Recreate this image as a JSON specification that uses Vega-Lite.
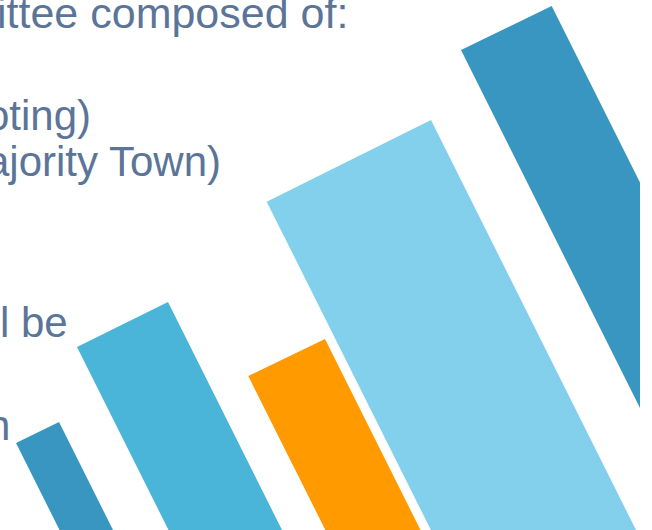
{
  "$schema": "https://vega.github.io/schema/vega-lite/v6.json",
  "width": 652,
  "height": 530,
  "autosize": {"type": "none"},
  "padding": 0,
  "background": "white",
  "config": {"view": {"stroke": null}},
  "datasets": {
    "bars": [
      {"bar": "b1", "vertex": 1, "x": 16, "y": 443},
      {"bar": "b1", "vertex": 2, "x": 59, "y": 422},
      {"bar": "b1", "vertex": 3, "x": 128, "y": 560},
      {"bar": "b1", "vertex": 4, "x": 74.5, "y": 560},
      {"bar": "b2", "vertex": 1, "x": 77, "y": 347},
      {"bar": "b2", "vertex": 2, "x": 168, "y": 302},
      {"bar": "b2", "vertex": 3, "x": 297, "y": 560},
      {"bar": "b2", "vertex": 4, "x": 183.5, "y": 560},
      {"bar": "b3", "vertex": 1, "x": 248.3, "y": 376},
      {"bar": "b3", "vertex": 2, "x": 325, "y": 339},
      {"bar": "b3", "vertex": 3, "x": 435.5, "y": 560},
      {"bar": "b3", "vertex": 4, "x": 340.3, "y": 560},
      {"bar": "b4", "vertex": 1, "x": 266.7, "y": 201.7},
      {"bar": "b4", "vertex": 2, "x": 431, "y": 120},
      {"bar": "b4", "vertex": 3, "x": 651, "y": 560},
      {"bar": "b4", "vertex": 4, "x": 445.9, "y": 560},
      {"bar": "b5", "vertex": 1, "x": 461, "y": 50},
      {"bar": "b5", "vertex": 2, "x": 551.7, "y": 6},
      {"bar": "b5", "vertex": 3, "x": 640, "y": 182.6},
      {"bar": "b5", "vertex": 4, "x": 640, "y": 408}
    ],
    "heading": [
      {"text": "ittee composed of:", "x": -3, "y": 28}
    ],
    "labels": [
      {"text": "oting)", "x": -14, "y": 130},
      {"text": "ajority Town)", "x": -14, "y": 176},
      {"text": "l be", "x": 0, "y": 337},
      {"text": "n", "x": -13, "y": 440}
    ]
  },
  "layer": [
    {
      "data": {"name": "bars"},
      "mark": {"type": "line", "filled": true, "interpolate": "linear-closed", "clip": true, "strokeWidth": 0},
      "encoding": {
        "x": {"field": "x", "type": "quantitative", "scale": {"domain": [0, 652], "nice": false, "zero": false}, "axis": null},
        "y": {"field": "y", "type": "quantitative", "scale": {"domain": [0, 530], "nice": false, "zero": false, "reverse": true}, "axis": null},
        "order": {"field": "vertex", "type": "quantitative"},
        "detail": {"field": "bar", "type": "nominal"},
        "color": {"field": "bar", "type": "nominal", "scale": {"domain": ["b1", "b2", "b3", "b4", "b5"], "range": ["#3896c1", "#4ab4d9", "#ff9a00", "#82d0ec", "#3896c1"]}, "legend": null}
      }
    },
    {
      "data": {"name": "heading"},
      "mark": {"type": "text", "align": "left", "baseline": "alphabetic", "font": "Liberation Sans", "fontSize": 43, "color": "#5b7599"},
      "encoding": {
        "x": {"field": "x", "type": "quantitative"},
        "y": {"field": "y", "type": "quantitative"},
        "text": {"field": "text"}
      }
    },
    {
      "data": {"name": "labels"},
      "mark": {"type": "text", "align": "left", "baseline": "alphabetic", "font": "Liberation Sans", "fontSize": 42, "color": "#5b7599"},
      "encoding": {
        "x": {"field": "x", "type": "quantitative"},
        "y": {"field": "y", "type": "quantitative"},
        "text": {"field": "text"}
      }
    }
  ]
}
